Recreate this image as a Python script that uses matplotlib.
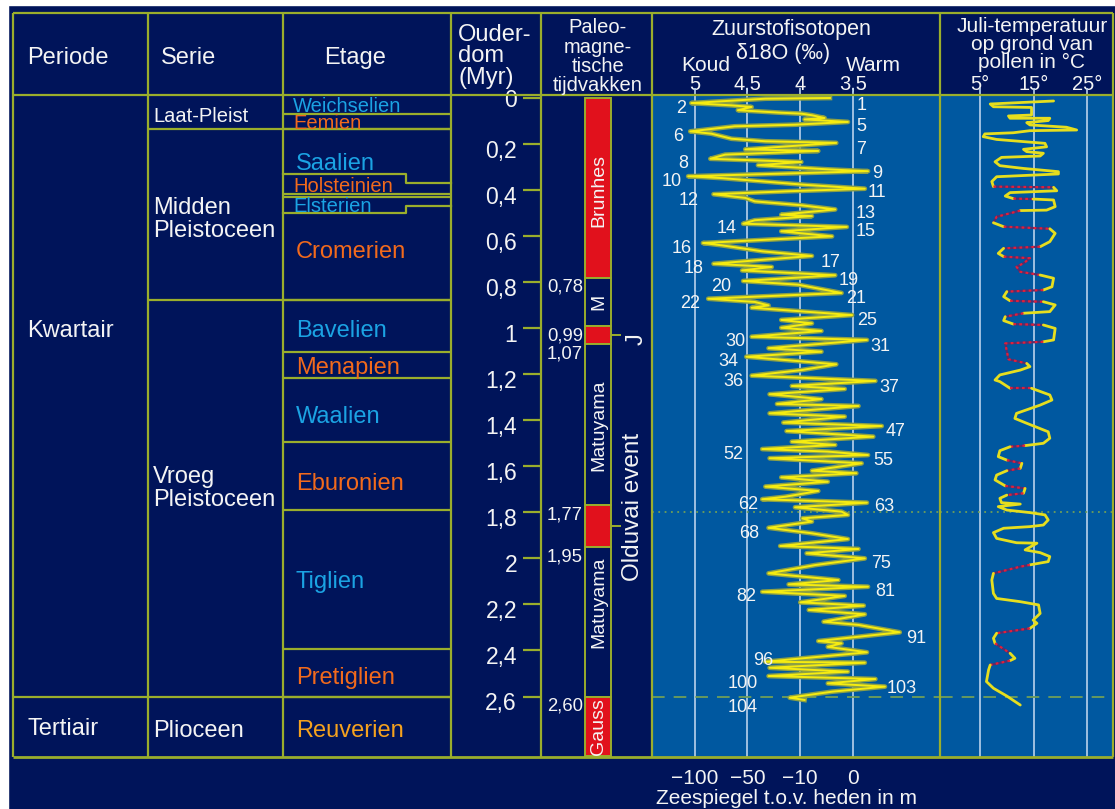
import matplotlib.pyplot as plt
from matplotlib.patches import Rectangle

plt.rcParams['font.family'] = ['Liberation Sans', 'DejaVu Sans']

# ---------------- stratigraphic table (ages in Myr) ----------------
periods = ['Kwartair', 'Tertiair']
period_label_age = [1.003, 2.732]
period_bounds = [2.6]

series = ['Laat-Pleist', 'Midden\nPleistoceen', 'Vroeg\nPleistoceen', 'Plioceen']
series_label_age = [0.070, 0.515, 1.685, 2.737]
series_bounds = [0.135, 0.877]

etages = ['Weichselien', 'Eemien', 'Saalien', 'Holsteinien', 'Elsterien', 'Cromerien',
          'Bavelien', 'Menapien', 'Waalien', 'Eburonien', 'Tiglien', 'Pretiglien', 'Reuverien']
etage_colors = ['#1BA3E3', '#F26A1C', '#1BA3E3', '#F26A1C', '#1BA3E3', '#F26A1C',
                '#1BA3E3', '#F26A1C', '#1BA3E3', '#F26A1C', '#1BA3E3', '#F26A1C', '#F5A21E']
etage_label_age = [0.030, 0.104, 0.274, 0.374, 0.461, 0.660,
                   1.003, 1.164, 1.373, 1.668, 2.090, 2.507, 2.737]
etage_small = ['Weichselien', 'Eemien', 'Holsteinien', 'Elsterien']
# boundaries as (age at left side, age at right side) of the etage column
etage_bounds = [(0.070, 0.070), (0.135, 0.135), (0.330, 0.369), (0.417, 0.417),
                (0.430, 0.430), (0.500, 0.469), (0.877, 0.877), (1.103, 1.103),
                (1.216, 1.216), (1.494, 1.494), (1.790, 1.790), (2.394, 2.394), (2.6, 2.6)]

age_ticks = [0, 0.2, 0.4, 0.6, 0.8, 1, 1.2, 1.4, 1.6, 1.8, 2, 2.2, 2.4, 2.6]
age_tick_labels = ['0', '0,2', '0,4', '0,6', '0,8', '1', '1,2', '1,4', '1,6', '1,8',
                   '2', '2,2', '2,4', '2,6']

# ---------------- paleomagnetic chrons ----------------
chron_start = [0.0, 0.78, 0.99, 1.07, 1.77, 1.95, 2.60]
chron_end = [0.78, 0.99, 1.07, 1.77, 1.95, 2.60, 2.86]
chron_normal = [True, False, True, False, True, False, True]
chron_labels = ['Brunhes', 'M', '', 'Matuyama', '', 'Matuyama', 'Gauss']
chron_label_age = [0.40, 0.886, 0, 1.42, 0, 2.19, 2.73]
boundary_ages = [0.78, 0.99, 1.07, 1.77, 1.95, 2.60]
boundary_labels = ['0,78', '0,99', '1,07', '1,77', '1,95', '2,60']

# ---------------- oxygen isotope record ----------------
d18o = [3.72, 4.33, 4.74, 5.03, 4.65, 4.46, 4.59, 4.18, 3.99, 3.89, 3.77, 3.96, 3.55, 4.05,
        4.62, 5.04, 4.84, 4.65, 4.33, 3.66, 4.52, 3.83, 4.71, 4.85, 4.43, 3.99, 4.40, 3.74,
        3.36, 5.06, 4.74, 4.36, 3.96, 3.39, 4.11, 4.82, 4.52, 4.43, 3.99, 3.67, 4.18, 3.89,
        4.43, 4.54, 3.56, 4.18, 3.70, 4.92, 4.74, 4.36, 3.89, 4.82, 4.27, 4.55, 3.67, 4.54,
        4.02, 3.61, 4.87, 4.43, 4.30, 4.46, 3.51, 4.18, 3.89, 4.18, 3.80, 4.46, 3.37, 4.30,
        3.80, 4.51, 3.66, 3.99, 4.46, 3.29, 4.08, 3.58, 4.29, 3.80, 4.22, 3.45, 4.29, 3.58,
        4.16, 3.23, 4.13, 3.31, 4.08, 3.67, 4.36, 3.74, 3.36, 4.29, 3.42, 3.89, 3.47, 4.18,
        3.74, 4.33, 3.83, 4.14, 4.36, 3.37, 4.05, 3.61, 3.55, 3.98, 3.89, 4.30, 3.89, 3.55,
        4.19, 3.45, 3.94, 3.39, 3.86, 4.30, 3.64, 4.11, 3.36, 4.36, 3.58, 4.00, 3.40, 3.92,
        3.39, 3.78, 3.45, 3.06, 3.83, 3.61, 3.74, 3.37, 4.33, 3.39, 4.29, 3.55, 4.30, 3.29,
        3.74, 3.20, 3.70, 4.10, 3.96]
d18o_age = [0.000, 0.003, 0.014, 0.022, 0.032, 0.039, 0.053, 0.064, 0.068, 0.075, 0.087, 0.093,
            0.104, 0.116, 0.123, 0.145, 0.155, 0.177, 0.188, 0.195, 0.223, 0.230, 0.246, 0.264,
            0.271, 0.278, 0.292, 0.310, 0.318, 0.340, 0.348, 0.362, 0.377, 0.394, 0.405, 0.418,
            0.434, 0.449, 0.466, 0.484, 0.507, 0.513, 0.531, 0.546, 0.560, 0.579, 0.601, 0.630,
            0.640, 0.666, 0.686, 0.720, 0.734, 0.749, 0.770, 0.795, 0.811, 0.847, 0.872, 0.886,
            0.901, 0.911, 0.943, 0.964, 0.979, 0.998, 1.012, 1.037, 1.051, 1.087, 1.102, 1.124,
            1.157, 1.182, 1.206, 1.229, 1.251, 1.264, 1.287, 1.308, 1.329, 1.338, 1.370, 1.384,
            1.410, 1.425, 1.447, 1.471, 1.493, 1.507, 1.525, 1.536, 1.551, 1.565, 1.587, 1.619,
            1.630, 1.648, 1.667, 1.688, 1.707, 1.732, 1.743, 1.758, 1.778, 1.797, 1.811, 1.826,
            1.840, 1.867, 1.891, 1.916, 1.946, 1.959, 1.978, 2.000, 2.029, 2.065, 2.094, 2.113,
            2.123, 2.145, 2.163, 2.191, 2.205, 2.224, 2.243, 2.275, 2.289, 2.321, 2.359, 2.369,
            2.384, 2.408, 2.449, 2.453, 2.475, 2.492, 2.511, 2.524, 2.543, 2.557, 2.579, 2.605,
            2.615]

stages = [1, 2, 5, 6, 7, 8, 9, 10, 11, 12, 13, 14, 15, 16, 17, 18, 19, 20, 21, 22,
          25, 30, 31, 34, 36, 37, 47, 52, 55, 62, 63, 68, 75, 81, 82, 91, 96, 100, 103, 104]
stage_d18o = [3.42, 5.13, 3.42, 5.15, 3.43, 5.11, 3.27, 5.22, 3.28, 5.06,
              3.38, 4.70, 3.38, 5.12, 3.71, 5.01, 3.54, 4.75, 3.47, 5.04,
              3.37, 4.61, 3.24, 4.68, 4.63, 3.16, 3.10, 4.63, 3.22, 4.49,
              3.21, 4.48, 3.24, 3.20, 4.51, 2.90, 4.35, 4.54, 3.04, 4.54]
stage_age = [0.025, 0.039, 0.117, 0.159, 0.213, 0.278, 0.321, 0.356, 0.403, 0.437,
             0.491, 0.560, 0.573, 0.647, 0.704, 0.734, 0.786, 0.812, 0.864, 0.886,
             0.960, 1.047, 1.069, 1.138, 1.221, 1.247, 1.442, 1.542, 1.564, 1.759,
             1.768, 1.885, 2.014, 2.137, 2.155, 2.340, 2.437, 2.536, 2.557, 2.641]

d18o_ticks = [5, 4.5, 4, 3.5]
d18o_tick_labels = ['5', '4,5', '4', '3,5']
sea_level_labels = ['\u2212100', '\u221250', '\u221210', '0']

# ---------------- July temperature from pollen ----------------
july_temp = [18.7, 6.9, 7.5, 14.6, 14.6, 10.3, 10.6, 18.0, 17.7, 13.7, 14.3, 21.1, 23.0, 14.3,
             11.2, 5.9, 5.6, 8.1, 17.1, 17.4, 13.1, 13.7, 16.8, 16.2, 9.0, 7.8, 8.7, 13.1,
             19.6, 19.6, 8.1, 7.2, 7.5, 18.7, 19.3, 10.6, 9.7, 11.2, 14.9, 18.7, 19.0, 17.4,
             12.5, 8.1, 7.5, 9.4, 18.0, 19.0, 18.0, 16.2, 9.4, 8.4, 9.4, 14.3, 13.1, 11.8,
             12.5, 16.2, 18.7, 18.4, 16.8, 10.0, 9.4, 10.6, 16.8, 19.0, 18.0, 13.1, 9.7, 9.4,
             11.2, 16.8, 19.0, 18.7, 16.8, 9.7, 10.3, 13.7, 14.3, 12.5, 8.7, 7.8, 8.7, 10.6,
             14.6, 18.0, 18.4, 16.2, 11.8, 11.5, 13.7, 17.7, 18.0, 16.8, 13.4, 10.6, 8.7, 8.4,
             10.0, 12.8, 12.5, 10.0, 8.1, 7.8, 9.7, 13.4, 13.1, 10.0, 8.7, 9.0, 12.5, 8.4,
             10.0, 14.3, 17.1, 17.7, 16.8, 14.3, 9.4, 7.5, 8.1, 11.8, 15.6, 13.4, 16.2, 18.0,
             17.7, 14.3, 12.5, 7.5, 7.2, 7.5, 8.1, 12.5, 15.9, 16.2, 14.9, 15.6, 14.3, 8.1,
             7.5, 7.8, 10.6, 11.5, 10.6, 6.9, 6.6, 6.2, 7.5, 10.0, 12.5]
july_age = [0.013, 0.026, 0.038, 0.041, 0.074, 0.078, 0.088, 0.088, 0.098, 0.107, 0.117, 0.127,
            0.139, 0.142, 0.151, 0.156, 0.168, 0.180, 0.197, 0.212, 0.223, 0.233, 0.240, 0.252,
            0.258, 0.277, 0.294, 0.306, 0.320, 0.330, 0.342, 0.363, 0.385, 0.388, 0.403, 0.411,
            0.426, 0.437, 0.439, 0.443, 0.472, 0.487, 0.489, 0.516, 0.542, 0.559, 0.568, 0.588,
            0.624, 0.646, 0.653, 0.675, 0.689, 0.696, 0.718, 0.733, 0.755, 0.769, 0.783, 0.820,
            0.834, 0.841, 0.863, 0.881, 0.885, 0.899, 0.928, 0.935, 0.950, 0.967, 0.982, 0.986,
            1.001, 1.051, 1.059, 1.066, 1.135, 1.153, 1.167, 1.182, 1.203, 1.225, 1.232, 1.261,
            1.261, 1.290, 1.312, 1.334, 1.370, 1.392, 1.413, 1.450, 1.478, 1.500, 1.510, 1.515,
            1.532, 1.558, 1.573, 1.587, 1.609, 1.619, 1.638, 1.659, 1.685, 1.696, 1.717, 1.725,
            1.739, 1.758, 1.764, 1.775, 1.790, 1.801, 1.811, 1.833, 1.855, 1.862, 1.869, 1.888,
            1.913, 1.932, 1.934, 1.963, 1.975, 1.992, 2.014, 2.028, 2.036, 2.065, 2.094, 2.152,
            2.174, 2.188, 2.202, 2.239, 2.268, 2.282, 2.304, 2.325, 2.347, 2.369, 2.412, 2.434,
            2.444, 2.463, 2.484, 2.535, 2.564, 2.598, 2.637]
# 1 = stretch without pollen data (interpolated), drawn dotted
july_gap = [0, 0, 0, 0, 0, 0, 0, 0, 0, 0, 0, 0, 0, 0, 0, 0, 0, 0, 0, 0, 0, 0, 0, 0, 0, 0, 0, 0,
            0, 0, 0, 0, 0, 1, 0, 0, 0, 0, 1, 0, 0, 0, 0, 1, 1, 0, 1, 0, 0, 0, 1, 0, 0, 1, 1, 1,
            1, 1, 0, 0, 0, 1, 0, 0, 1, 0, 0, 0, 1, 0, 0, 1, 0, 0, 0, 1, 1, 1, 0, 0, 0, 0, 0, 0,
            1, 0, 0, 0, 0, 0, 0, 0, 0, 0, 0, 1, 0, 0, 0, 1, 0, 1, 0, 0, 0, 1, 0, 1, 0, 0, 0, 0,
            0, 0, 0, 0, 0, 0, 0, 0, 0, 0, 0, 0, 0, 0, 0, 0, 1, 1, 0, 0, 0, 0, 0, 0, 0, 0, 0, 1,
            0, 0, 1, 0, 0, 1, 0, 0, 0, 0, 0]
temp_ticks = [5, 15, 25]
temp_tick_labels = ['5°', '15°', '25°']

# ---------------- styling / layout ----------------
NAVY = '#00145A'
PANEL = '#0058A0'
FRAME = '#9AAE2C'
TXT = '#F4F4F4'
RED = '#E1111C'
GRID = '#B9D2EC'
MARK = '#6F9E58'

W, H = 1115, 809
BODY_TOP, BODY_BOT = 95, 757
AGE0, PX_MYR = 98.0, 230.2       # pixel row of age 0, pixels per Myr
D5, PX_PERMIL = 694.5, 105.8     # pixel column of d18O = 5, pixels per permil
T5, PX_DEG = 980.0, 5.37         # pixel column of 5 degC, pixels per degree


def age_of(py):
    return (py - AGE0) / PX_MYR


def d18o_of(px):
    return 5 - (px - D5) / PX_PERMIL


def temp_of(px):
    return 5 + (px - T5) / PX_DEG


fig = plt.figure(figsize=(W / 100, H / 100), dpi=100, facecolor=NAVY)
fig.patches.extend([
    Rectangle((0, 1 - 5 / H), 1, 5 / H, transform=fig.transFigure, color='white'),
    Rectangle((0, 0), 8 / W, 1, transform=fig.transFigure, color='white'),
])


def body_axes(x0, x1):
    ax = fig.add_axes([x0 / W, 1 - BODY_BOT / H, (x1 - x0) / W, (BODY_BOT - BODY_TOP) / H])
    ax.set_ylim(age_of(BODY_BOT), age_of(BODY_TOP))
    ax.set_yticks([])
    for s in ax.spines.values():
        s.set_visible(False)
    return ax


def top_labels(ax, ticks, labels):
    sec = ax.secondary_xaxis('top')
    sec.set_xticks(ticks, labels)
    sec.tick_params(length=0, pad=1, labelsize=14.5, labelcolor=TXT)
    sec.spines['top'].set_visible(False)


# --- oxygen isotope panel ---
ax_iso = body_axes(652, 940)
ax_iso.set_facecolor(PANEL)
ax_iso.set_xlim(d18o_of(652), d18o_of(940))
ax_iso.set_xticks(d18o_ticks, sea_level_labels)
ax_iso.tick_params(axis='x', length=0, pad=9, labelsize=15, labelcolor=TXT)
top_labels(ax_iso, d18o_ticks, d18o_tick_labels)
ax_iso.vlines(d18o_ticks, age_of(BODY_BOT), age_of(88), colors=GRID, lw=1.2,
              clip_on=False, zorder=1)
ax_iso.plot(d18o, d18o_age, color='#8CA046', lw=3.4, solid_joinstyle='round', zorder=2)
ax_iso.plot(d18o, d18o_age, color='#F6EC10', lw=1.4, zorder=3)
for n, d, a in zip(stages, stage_d18o, stage_age):
    ax_iso.text(d, a, str(n), ha='center', va='center_baseline', fontsize=13,
                color=TXT, zorder=4)

# --- pollen temperature panel ---
ax_temp = body_axes(940, 1113)
ax_temp.set_facecolor(PANEL)
ax_temp.set_xlim(temp_of(940), temp_of(1113))
ax_temp.set_xticks([])
top_labels(ax_temp, temp_ticks, temp_tick_labels)
ax_temp.vlines(temp_ticks, age_of(BODY_BOT), age_of(88), colors=GRID, lw=1.2,
               clip_on=False, zorder=1)

# split the curve into runs of measured (solid) and interpolated (dotted) stretches
runs = []
for i in range(1, len(july_temp)):
    if runs and runs[-1][0] == july_gap[i]:
        runs[-1][1].append(i)
    else:
        runs.append((july_gap[i], [i - 1, i]))
for gap, idx in runs:
    xs = [july_temp[k] for k in idx]
    ys = [july_age[k] for k in idx]
    if gap:
        ax_temp.plot(xs, ys, color='#5A2C6A', lw=1.6, zorder=2)
        ax_temp.plot(xs, ys, color='#E0203A', lw=1.6, ls=(0, (1.2, 1.5)), zorder=3)
    else:
        ax_temp.plot(xs, ys, color='#E6DE1E', lw=2.0, solid_joinstyle='round',
                     solid_capstyle='round', zorder=3)

for ax in (ax_iso, ax_temp):
    ax.axhline(1.8, color=MARK, lw=1.3, ls=(0, (1, 2.5)), zorder=1)
    ax.axhline(2.6, color=MARK, lw=1.3, ls=(0, (7, 5)), zorder=1)

# --- table body: frame, units, magnetic chrons ---
ax_b = body_axes(0, W)
ax_b.set_xlim(0, W)
ax_b.set_xticks([])
ax_b.patch.set_visible(False)
a_top, a_bot = age_of(BODY_TOP), age_of(BODY_BOT)

ax_b.vlines([13, 148, 283, 451, 541, 652, 940, 1113], a_bot, a_top, colors=FRAME, lw=1.6)
ax_b.hlines(a_bot, 13, 1113, colors=FRAME, lw=2, clip_on=False)
ax_b.hlines(period_bounds, 13, 451, colors=FRAME, lw=1.6)
ax_b.hlines(series_bounds, 148, 451, colors=FRAME, lw=1.6)
for left, right in etage_bounds:
    if left == right:
        ax_b.hlines(left, 283, 451, colors=FRAME, lw=1.6)
    else:
        ax_b.plot([283, 406, 406, 451], [left, left, right, right], color=FRAME, lw=1.6)

for name, a in zip(periods, period_label_age):
    ax_b.text(27, a, name, fontsize=17, color=TXT, va='center_baseline')
for name, a in zip(series, series_label_age):
    lines = name.split('\n')
    size = 14.5 if len(lines) == 1 and name.startswith('Laat') else 17
    for k, line in enumerate(lines):
        dy = (k - (len(lines) - 1) / 2) * 23 / PX_MYR
        ax_b.text(153, a + dy, line, fontsize=size, color=TXT, va='center_baseline')
for name, col, a in zip(etages, etage_colors, etage_label_age):
    small = name in etage_small
    ax_b.text(293 if small else 296, a, name, fontsize=14.5 if small else 17, color=col,
              va='center_baseline')

ax_b.hlines(age_ticks, 523, 541, colors=FRAME, lw=1.6)
for v, lab in zip(age_ticks, age_tick_labels):
    ax_b.text(517, v + (0 if v == 0 else 0.02), lab, fontsize=16.5, color=TXT,
              ha='right', va='center_baseline')

heights = [e - s for s, e in zip(chron_start, chron_end)]
ax_b.bar(598, heights, bottom=chron_start, width=26,
         color=[RED if n else NAVY for n in chron_normal], edgecolor=FRAME, lw=1.4)
for lab, a in zip(chron_labels, chron_label_age):
    if lab:
        ax_b.text(599, a, lab, rotation=90, fontsize=14, color=TXT,
                  ha='center', va='center')
for a, lab in zip(boundary_ages, boundary_labels):
    ax_b.text(583, a + 0.005, lab, fontsize=13.3, color=TXT, ha='right', va='top')

ax_b.hlines([(0.99 + 1.07) / 2, (1.77 + 1.95) / 2], 611, 621, colors=FRAME, lw=1.4)
ax_b.text(637, 1.047, 'J', rotation=90, fontsize=17, color=TXT, ha='center', va='center')
ax_b.text(633, 1.777, 'Olduvai event', rotation=90, fontsize=17.5, color=TXT,
          ha='center', va='center')

# --- header row ---
ax_h = fig.add_axes([0, 0, 1, 1])
ax_h.set_xlim(0, W)
ax_h.set_ylim(H, 0)
ax_h.axis('off')
ax_h.hlines([13, 95], 13, 1113, colors=FRAME, lw=1.6)
ax_h.vlines([13, 148, 283, 451, 541, 652, 940, 1113], 13, 95, colors=FRAME, lw=1.6)

header = [
    (27, 55, 'Periode', 17, 'left'),
    (161, 55, 'Serie', 17, 'left'),
    (355, 55, 'Etage', 17, 'center'),
    (458, 32, 'Ouder-', 17, 'left'),
    (458, 53, 'dom', 17, 'left'),
    (458, 75, '(Myr)', 17, 'left'),
    (598, 25, 'Paleo-', 14.5, 'center'),
    (598, 45, 'magne-', 14.5, 'center'),
    (598, 64, 'tische', 14.5, 'center'),
    (598, 83, 'tijdvakken', 14.5, 'center'),
    (791, 27, 'Zuurstofisotopen', 15.5, 'center'),
    (783, 51, '\u03b418O (\u2030)', 15.5, 'center'),
    (706, 63, 'Koud', 15, 'center'),
    (873, 63, 'Warm', 15, 'center'),
    (1032, 24, 'Juli-temperatuur', 15, 'center'),
    (1032, 42, 'op grond van', 15, 'center'),
    (1032, 60, 'pollen in °C', 15, 'center'),
    (787, 797, 'Zeespiegel t.o.v. heden in m', 15, 'center'),
]
for x, y, s, size, ha in header:
    ax_h.text(x, y, s, fontsize=size, color=TXT, ha=ha, va='center_baseline')

fig.savefig('out.png', dpi=100, facecolor=NAVY)
